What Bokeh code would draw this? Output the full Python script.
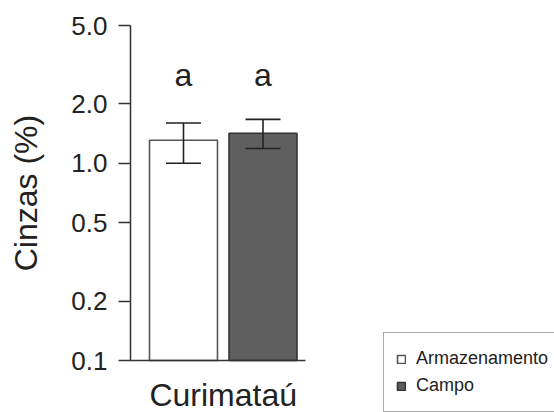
import math
from bokeh.plotting import figure
from bokeh.models import (Range1d, FixedTicker, PrintfTickFormatter, Whisker, TeeHead,
                          ColumnDataSource, Legend, LegendItem, Label)
from bokeh.embed import file_html
from bokeh.resources import INLINE
from bokeh.core.properties import value

# ---- data ----
site = "Curimataú"
groups = ["Armazenamento", "Campo"]
means = [1.31, 1.42]
lower = [1.00, 1.19]
upper = [1.60, 1.67]
letters = ["a", "a"]
y_ticks = [0.1, 0.2, 0.5, 1.0, 2.0, 5.0]
y_title = "Cinzas (%)"

# ---- style / layout ----
FONT = "Liberation Sans"
TXT = "#222222"
AX = "#333333"
fills = ["#ffffff", "#5f5f5f"]
outlines = ["#555555", "#333333"]
BAR_W = 0.855
LETTER_Y = 2.79

W, H = 554, 412
# pixel layout of the axes inside the canvas
AXIS_X = 130         # y-axis line
FIRST_BAR_X = 183    # centre of first bar
PX_PER_UNIT = 79.5   # distance between bar centres
X_AXIS_END = 305     # end of the x-axis line
TOP = 25             # 5.0 tick
AXIS_Y = 360         # 0.1 baseline
PX_PER_DECADE = (AXIS_Y - TOP) / math.log10(y_ticks[-1] / y_ticks[0])

x_start = -FIRST_BAR_X / PX_PER_UNIT
x_end = (W - FIRST_BAR_X) / PX_PER_UNIT
y_axis_loc = (AXIS_X - FIRST_BAR_X) / PX_PER_UNIT
x_axis_end = (X_AXIS_END - FIRST_BAR_X) / PX_PER_UNIT
y_start = y_ticks[0] * 10 ** (-(H - AXIS_Y) / PX_PER_DECADE)
y_end = y_ticks[-1] * 10 ** (TOP / PX_PER_DECADE)

xs = list(range(len(groups)))

p = figure(width=W, height=H, output_backend="svg", toolbar_location=None, tools="",
           y_axis_type="log", x_range=Range1d(x_start, x_end), y_range=Range1d(y_start, y_end),
           min_border=0)
p.xgrid.visible = False
p.ygrid.visible = False
p.outline_line_color = None
p.background_fill_color = "white"
p.border_fill_color = "white"

renderers = []
for i, g in enumerate(groups):
    r = p.vbar(x=[xs[i]], top=[means[i]], bottom=y_ticks[0], width=BAR_W,
               fill_color=fills[i], line_color=outlines[i], line_width=1.6)
    renderers.append(r)

src = ColumnDataSource(dict(x=xs, lower=lower, upper=upper))
wh = Whisker(base="x", lower="lower", upper="upper", source=src, dimension="height",
             line_color="#222222", line_width=1.6, level="overlay",
             upper_head=TeeHead(size=35, line_color="#222222", line_width=1.6),
             lower_head=TeeHead(size=35, line_color="#222222", line_width=1.6))
p.add_layout(wh)

p.text(x=xs, y=[LETTER_Y] * len(xs), text=letters, text_font=value(FONT), text_font_size="32px",
       text_align="center", text_baseline="alphabetic", text_color=TXT)

# y axis (drawn at the left edge of the data area)
ya = p.yaxis[0]
ya.fixed_location = y_axis_loc
ya.ticker = FixedTicker(ticks=y_ticks, minor_ticks=[])
ya.formatter = PrintfTickFormatter(format="%.1f")
ya.bounds = (y_ticks[0], y_ticks[-1])
ya.major_tick_out = 12
ya.major_tick_in = 0
ya.minor_tick_line_color = None
ya.major_tick_line_color = AX
ya.major_tick_line_width = 1.5
ya.axis_line_color = AX
ya.axis_line_width = 1.5
ya.major_label_standoff = 11
ya.major_label_text_font = FONT
ya.major_label_text_font_size = "26px"
ya.major_label_text_color = TXT

# y-axis title, centred on the axis line
p.add_layout(Label(x=25, x_units="screen", y=math.sqrt(y_ticks[0] * y_ticks[-1]), y_units="data",
                   text=y_title, angle=90, angle_units="deg", text_align="center",
                   text_baseline="middle", text_font=FONT, text_font_size="32px", text_color=TXT))

# x axis, drawn at the 0.1 baseline
xa = p.xaxis[0]
mid = (xs[0] + xs[-1]) / 2
xa.fixed_location = y_ticks[0]
xa.ticker = FixedTicker(ticks=[mid], minor_ticks=[])
xa.major_label_overrides = {mid: site}
xa.major_tick_out = 0
xa.major_tick_in = 0
xa.minor_tick_line_color = None
xa.major_tick_line_color = None
xa.axis_line_color = AX
xa.axis_line_width = 1.5
xa.bounds = (y_axis_loc, x_axis_end)
xa.major_label_standoff = 16
xa.major_label_text_font = FONT
xa.major_label_text_font_size = "32px"
xa.major_label_text_color = TXT

LEG_PAD = 12
LEG_ITEM_H = 27
LEG_LEFT = 383
LEG_TOP = 78  # px above the canvas bottom
leg_h = 2 * LEG_PAD + LEG_ITEM_H * len(groups)
legend = Legend(items=[LegendItem(label=g, renderers=[renderers[i]]) for i, g in enumerate(groups)],
                location=(LEG_LEFT, LEG_TOP - leg_h), glyph_width=10, glyph_height=10,
                label_height=LEG_ITEM_H,
                label_text_font=FONT, label_text_font_size="18px", label_text_color=TXT,
                label_standoff=10, padding=LEG_PAD, spacing=0, margin=0,
                border_line_color="#555555", border_line_width=1,
                background_fill_color="white", background_fill_alpha=1.0)
p.add_layout(legend)

open("out.html", "w").write(file_html(p, INLINE))
